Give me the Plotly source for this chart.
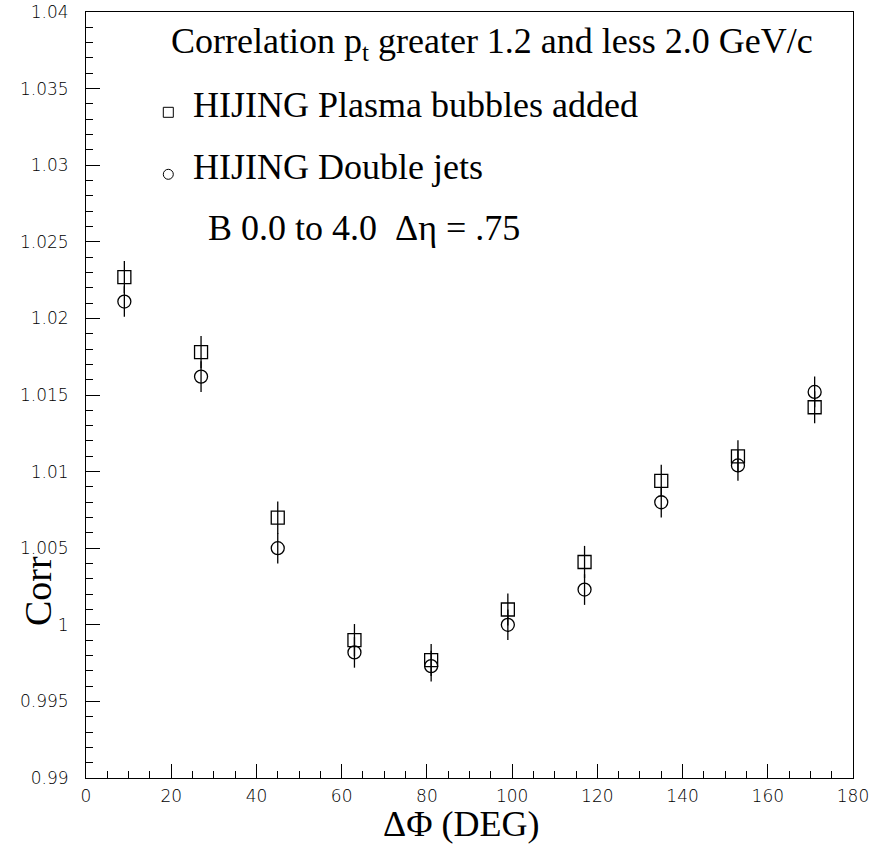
import plotly.graph_objects as go

# Data
dphi = [9, 27, 45, 63, 81, 99, 117, 135, 153, 171]
corr_bubbles = [1.0227, 1.0178, 1.0070, 0.9990, 0.9977, 1.0010, 1.0041, 1.0094, 1.0110, 1.0142]
err_bubbles = [0.00105] * 10
corr_jets = [1.0211, 1.0162, 1.0050, 0.9982, 0.9973, 1.0000, 1.0023, 1.0080, 1.0104, 1.0152]
err_jets = [0.0010] * 10

ytick_vals = [0.99, 0.995, 1.0, 1.005, 1.01, 1.015, 1.02, 1.025, 1.03, 1.035, 1.04]
ytick_text = ["0.99", "0.995", "1", "1.005", "1.01", "1.015", "1.02", "1.025", "1.03", "1.035", "1.04"]
xtick_vals = [0, 20, 40, 60, 80, 100, 120, 140, 160, 180]
xtick_text = [str(v) for v in xtick_vals]

W, H = 877, 851
L, R, T, B = 86, 24, 12, 73
pw, ph = W - L - R, H - T - B

def px(xp):
    return (xp - L) / pw

def py(yp):
    return (H - B - yp) / ph

fig = go.Figure()
fig.add_trace(go.Scatter(
    x=dphi, y=corr_bubbles, mode="markers",
    marker=dict(symbol="square-open", size=13, color="black", line=dict(width=1.3, color="black")),
    error_y=dict(type="data", array=err_bubbles, visible=True, width=0, thickness=1.3, color="black"),
    name="HIJING Plasma bubbles added", showlegend=False,
))
fig.add_trace(go.Scatter(
    x=dphi, y=corr_jets, mode="markers",
    marker=dict(symbol="circle-open", size=13, color="black", line=dict(width=1.3, color="black")),
    error_y=dict(type="data", array=err_jets, visible=True, width=0, thickness=1.3, color="black"),
    name="HIJING Double jets", showlegend=False,
))

serif = "Liberation Serif, Times New Roman, serif"
tickfont = dict(family="DejaVu Sans, Liberation Sans, sans-serif", size=17, color="black", weight=200)

fig.update_xaxes(
    range=[0, 180], tickvals=xtick_vals, ticktext=xtick_text,
    ticks="inside", ticklen=14, tickwidth=1, tickcolor="black",
    minor=dict(ticks="inside", ticklen=7, dtick=5, tickwidth=1, tickcolor="black", showgrid=False),
    showline=True, linecolor="black", linewidth=1, mirror=True,
    showgrid=False, zeroline=False, tickfont=tickfont,
    automargin=False, ticklabelstandoff=3,
)
fig.update_yaxes(
    range=[0.99, 1.04], tickvals=ytick_vals, ticktext=ytick_text,
    ticks="inside", ticklen=14, tickwidth=1, tickcolor="black",
    minor=dict(ticks="inside", ticklen=7, dtick=0.001, tickwidth=1, tickcolor="black", showgrid=False),
    showline=True, linecolor="black", linewidth=1, mirror=True,
    showgrid=False, zeroline=False, tickfont=tickfont,
    automargin=False, ticklabelstandoff=13,
)

annots = [
    dict(text="Correlation p<sub>t</sub> greater 1.2 and less 2.0 GeV/c", x=px(169), y=py(44), size=36),
    dict(text="HIJING Plasma bubbles added", x=px(191), y=py(105), size=36),
    dict(text="HIJING Double jets", x=px(191), y=py(167), size=36),
    dict(text="B 0.0 to 4.0  \u0394\u03b7 = .75", x=px(206), y=py(228), size=36),
]
for a in annots:
    fig.add_annotation(text=a["text"], x=a["x"], y=a["y"], xref="paper", yref="paper",
                       xanchor="left", yanchor="middle", showarrow=False,
                       font=dict(family=serif, size=a["size"], color="black"))

# axis titles
fig.add_annotation(text="\u0394\u03a6 (DEG)", x=px(461), y=py(824), xref="paper", yref="paper",
                   xanchor="center", yanchor="middle", showarrow=False, borderpad=0,
                   font=dict(family=serif, size=36, color="black"))
fig.add_annotation(text="Corr", x=px(38), y=py(591), xref="paper", yref="paper",
                   xanchor="center", yanchor="middle", showarrow=False, textangle=-90,
                   font=dict(family=serif, size=38, color="black"))

# legend symbols
fig.add_shape(type="rect", xref="paper", yref="paper",
              x0=px(163.3), x1=px(173.3), y0=py(117.3), y1=py(107.3),
              line=dict(color="black", width=1))
fig.add_shape(type="circle", xref="paper", yref="paper",
              x0=px(163.3), x1=px(173.3), y0=py(179.3), y1=py(169.3),
              line=dict(color="black", width=1))

fig.update_layout(
    width=W, height=H, margin=dict(l=L, r=R, t=T, b=B),
    paper_bgcolor="white", plot_bgcolor="white",
)

fig.write_html("out.html", config={"displayModeBar": False},
               post_script="document.body.style.margin='0';document.body.style.overflow='hidden';")
